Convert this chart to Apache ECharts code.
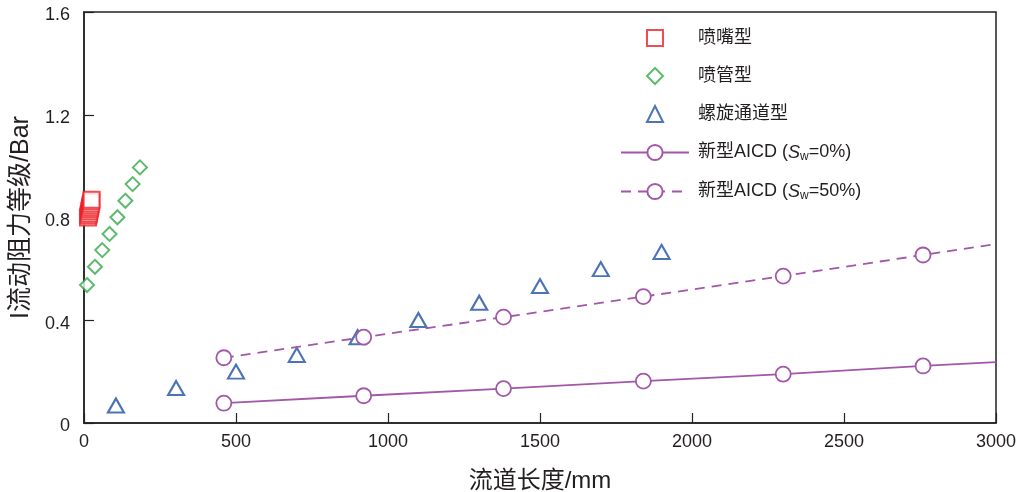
<!DOCTYPE html>
<html>
<head>
<meta charset="utf-8">
<script src="https://cdn.jsdelivr.net/npm/echarts@6/dist/echarts.min.js"></script>
<style>
  html, body { margin: 0; padding: 0; background: #fff; }
  #chart { width: 1021px; height: 492px; }
</style>
</head>
<body>
<div id="chart"></div>
<script>
// Flow resistance rating vs. channel length for different AICD types
const nozzleType = [ // 喷嘴型 [length mm, rating Bar]
  [13, 0.800], [14.5, 0.808], [16, 0.815], [17, 0.823], [18.5, 0.831],
  [20, 0.838], [21, 0.846], [22.5, 0.854], [24, 0.862], [25, 0.869]
];
const tubeType = [ // 喷管型
  [10, 0.537], [36, 0.608], [60, 0.673], [84, 0.736],
  [110, 0.801], [136, 0.865], [160, 0.930], [184, 0.995]
];
const spiralType = [ // 螺旋通道型
  [105, 0.068], [303, 0.136], [500, 0.200], [700, 0.265], [900, 0.334],
  [1100, 0.401], [1300, 0.468], [1500, 0.533], [1700, 0.599], [1900, 0.666]
];
const aicdLengths = [460, 920, 1380, 1840, 2300, 2760];
const aicdSw0 = [0.077, 0.106, 0.134, 0.163, 0.190, 0.222];
const aicdSw50 = [0.254, 0.334, 0.412, 0.492, 0.572, 0.654];
// trend lines run on to the right edge of the axis
const lineEnd = 3000;
const aicdSw0End = 0.237;
const aicdSw50End = 0.697;

const xTicks = ['0', '500', '1000', '1500', '2000', '2500', '3000'];
const yTicks = ['0', '0.4', '0.8', '1.2', '1.6'];

const seriesNames = ['喷嘴型', '喷管型', '螺旋通道型', '新型AICD (Sw=0%)', '新型AICD (Sw=50%)'];

const FONT = '"Liberation Sans", "Noto Sans CJK SC", Arial, sans-serif';
const TEXT = '#231f20';
const AXIS = '#222';
const RED = '#ec1f26';
const GREEN = '#36a94a';
const BLUE = '#1f50a2';
const PURPLE = '#a257a9';

function aicdData(ys, yEnd) {
  const d = aicdLengths.map((x, i) => [x, ys[i]]);
  d.push({ value: [lineEnd, yEnd], symbol: 'none' });
  return d;
}

const legendText = {
  fontFamily: FONT, fontSize: 18, color: TEXT, lineHeight: 20,
  rich: {
    i: { fontFamily: FONT, fontSize: 18, fontStyle: 'italic', color: TEXT, lineHeight: 20 },
    sub: { fontFamily: FONT, fontSize: 12, color: TEXT, lineHeight: 20, padding: [9, 0, 0, 0] }
  }
};
function legendLabel(name) {
  return name.replace('Sw', '{i|S}{sub|w}');
}

const chart = echarts.init(document.getElementById('chart'), null, { renderer: 'canvas' });

chart.setOption({
  animation: false,
  backgroundColor: '#fff',
  textStyle: { fontFamily: FONT, color: TEXT },
  grid: {
    left: 84, right: 25, top: 12, bottom: 69,
    outerBoundsMode: 'none', containLabel: false,
    show: true, borderColor: AXIS, borderWidth: 1.5, backgroundColor: 'transparent'
  },
  legend: [
    { // marker-only entries
      orient: 'vertical', left: 646, top: 28, padding: 0,
      itemWidth: 16, itemHeight: 16, itemGap: 18,
      data: seriesNames.slice(0, 3),
      textStyle: Object.assign({ padding: [0, 0, 0, 30] }, legendText),
      formatter: legendLabel
    },
    { // line entries
      orient: 'vertical', left: 620, top: 142, padding: 0,
      itemWidth: 68, itemHeight: 19, itemGap: 18,
      data: seriesNames.slice(3),
      textStyle: Object.assign({ padding: [0, 0, 0, 4] }, legendText),
      formatter: legendLabel
    }
  ],
  xAxis: {
    type: 'value', min: 0, max: 3000, interval: 500,
    name: '流道长度/mm', nameLocation: 'middle', nameGap: 46,
    nameTextStyle: { fontFamily: FONT, fontSize: 24, color: TEXT },
    axisLine: { show: true, onZero: false, lineStyle: { color: AXIS, width: 1.5 } },
    axisTick: { show: true, inside: true, length: 10, lineStyle: { color: AXIS, width: 1.2 } },
    axisLabel: {
      fontFamily: FONT, fontSize: 18, color: TEXT, margin: 10,
      formatter: function (v) { return xTicks[Math.round(v / 500)]; }
    },
    splitLine: { show: false }
  },
  yAxis: {
    type: 'value', min: 0, max: 1.6, interval: 0.4,
    name: 'I流动阻力等级/Bar', nameLocation: 'middle', nameGap: 44,
    nameTextStyle: { fontFamily: FONT, fontSize: 25, color: TEXT },
    axisLine: { show: true, onZero: false, lineStyle: { color: AXIS, width: 1.5 } },
    axisTick: { show: true, inside: true, length: 10, lineStyle: { color: AXIS, width: 1.2 } },
    axisLabel: {
      fontFamily: FONT, fontSize: 18, color: TEXT, margin: 14,
      formatter: function (v) { return '{t|' + yTicks[Math.round(v / 0.4)] + '}'; },
      rich: { t: { fontFamily: FONT, fontSize: 18, color: TEXT, padding: [7, 0, 0, 0] } }
    },
    splitLine: { show: false }
  },
  series: [
    {
      name: seriesNames[0], type: 'scatter', data: nozzleType,
      symbol: 'rect', symbolSize: 16,
      itemStyle: { color: '#fff', borderColor: RED, borderWidth: 2 }
    },
    {
      name: seriesNames[1], type: 'scatter', data: tubeType,
      symbol: 'diamond', symbolSize: 14,
      itemStyle: { color: '#fff', borderColor: GREEN, borderWidth: 2 }
    },
    {
      name: seriesNames[2], type: 'scatter', data: spiralType,
      symbol: 'triangle', symbolSize: [16, 14],
      itemStyle: { color: '#fff', borderColor: BLUE, borderWidth: 2.1 }
    },
    {
      name: seriesNames[3], type: 'line', data: aicdData(aicdSw0, aicdSw0End),
      symbol: 'circle', symbolSize: 15, showAllSymbol: true,
      lineStyle: { color: PURPLE, width: 1.8 },
      itemStyle: { color: '#fff', borderColor: PURPLE, borderWidth: 1.8 }
    },
    {
      name: seriesNames[4], type: 'line', data: aicdData(aicdSw50, aicdSw50End),
      symbol: 'circle', symbolSize: 15, showAllSymbol: true,
      lineStyle: { color: PURPLE, width: 1.8, type: [10, 7] },
      itemStyle: { color: '#fff', borderColor: PURPLE, borderWidth: 1.8 }
    }
  ]
});
</script>
</body>
</html>
